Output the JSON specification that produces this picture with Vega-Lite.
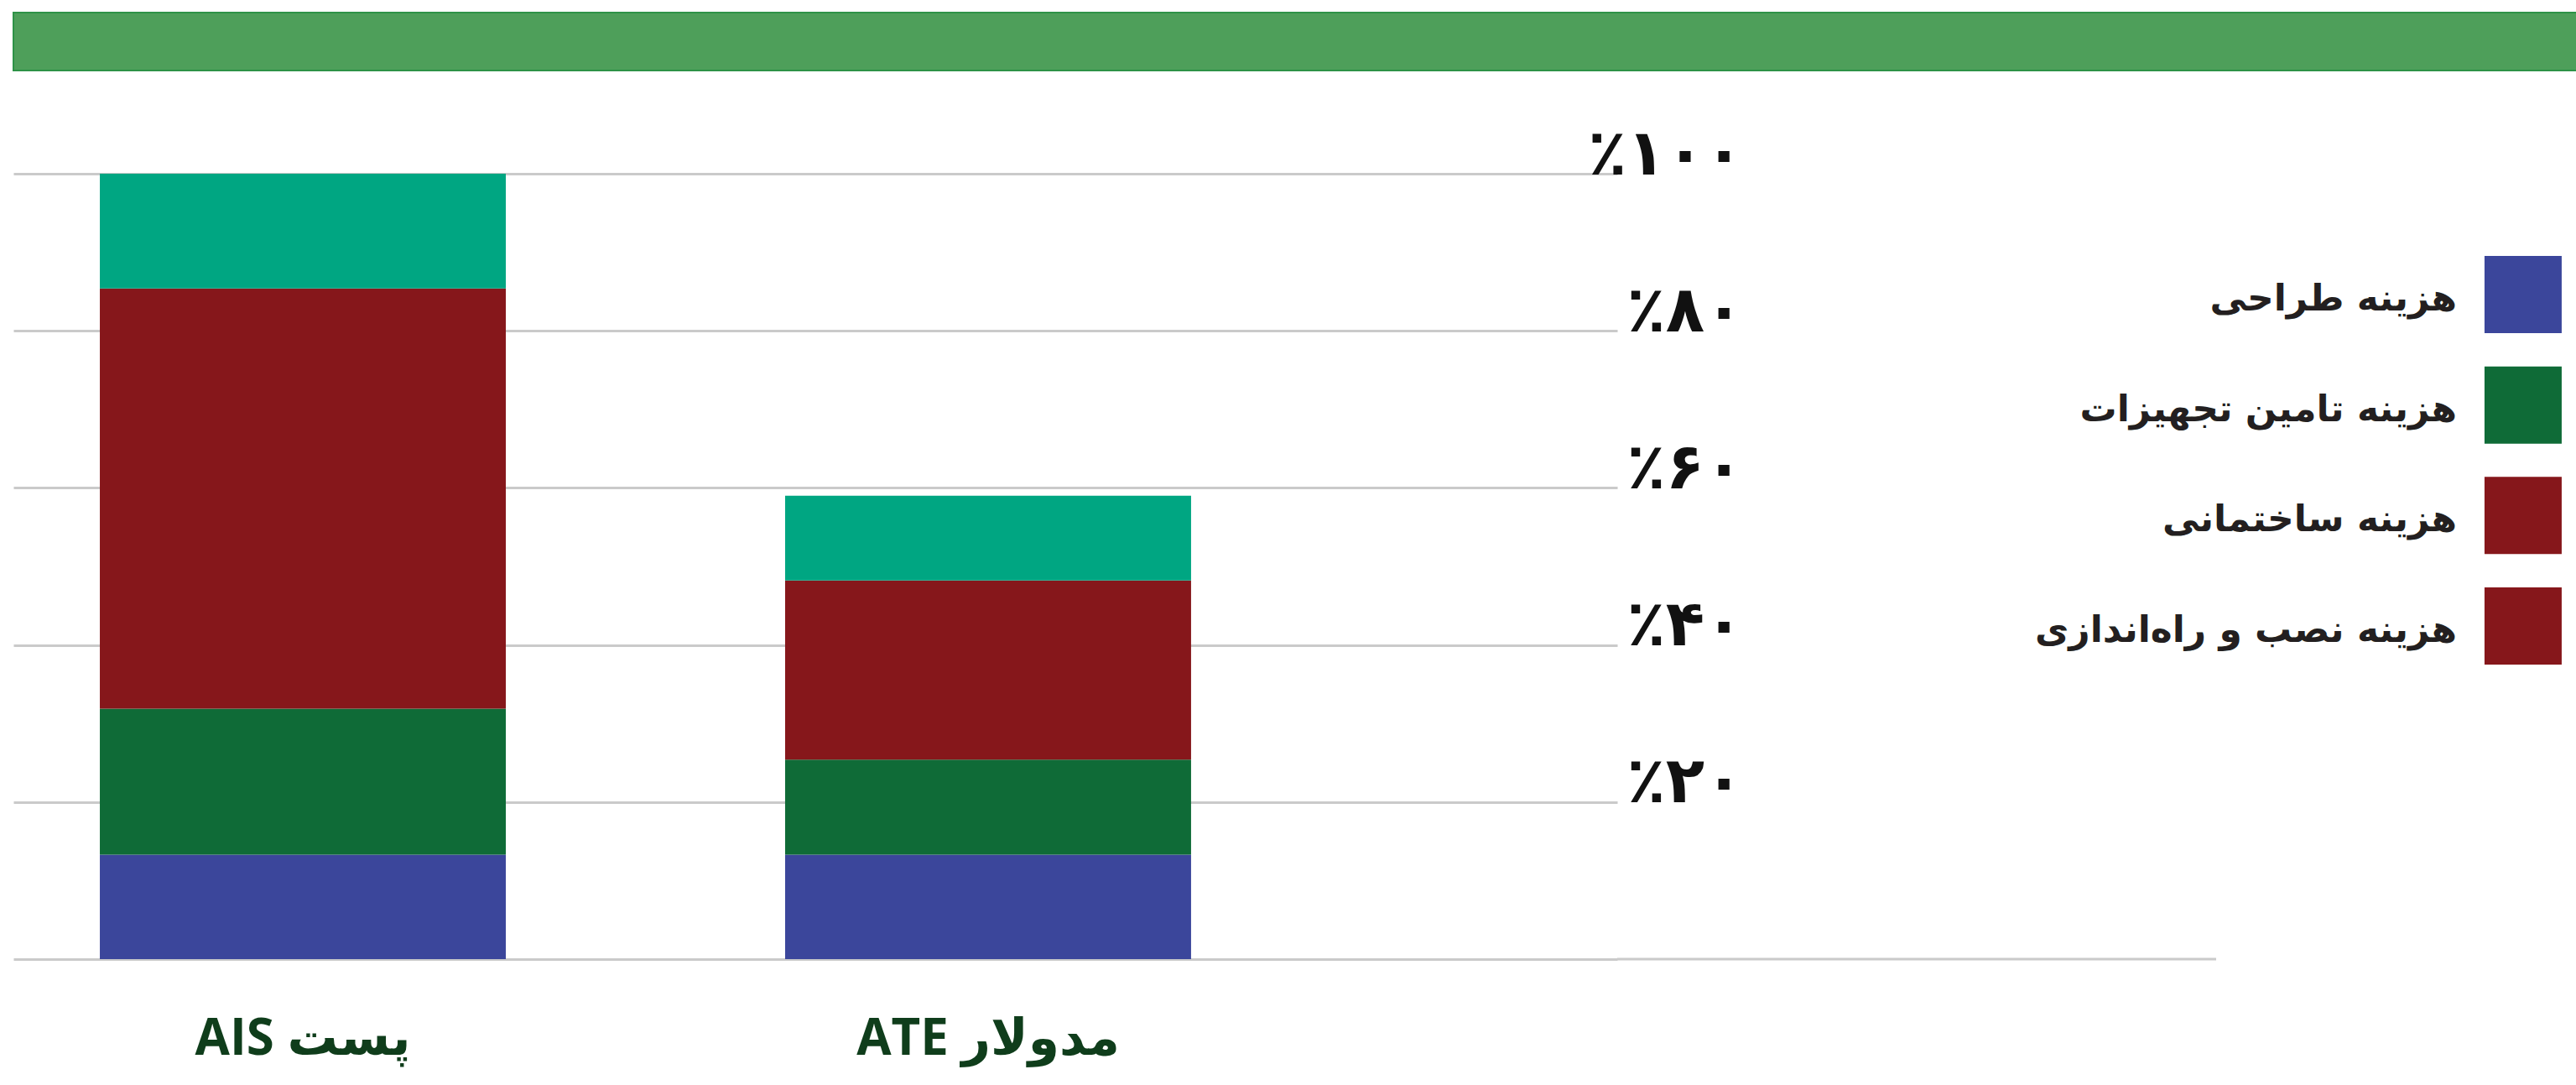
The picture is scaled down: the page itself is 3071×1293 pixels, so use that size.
{
  "$schema": "https://vega.github.io/schema/vega-lite/v6.json",
  "background": "white",
  "padding": {"left": 15, "top": 14, "right": 0, "bottom": 30},
  "config": {"view": {"stroke": null}},
  "datasets": {
    "costs": [
      {"bar": "پست AIS", "cost": "هزینه طراحی", "rank": 1, "pct": 13.3},
      {"bar": "پست AIS", "cost": "هزینه تامین تجهیزات", "rank": 2, "pct": 18.6},
      {"bar": "پست AIS", "cost": "هزینه ساختمانی", "rank": 3, "pct": 53.5},
      {"bar": "پست AIS", "cost": "هزینه نصب و راه‌اندازی", "rank": 4, "pct": 14.6},
      {"bar": "مدولار ATE", "cost": "هزینه طراحی", "rank": 1, "pct": 13.3},
      {"bar": "مدولار ATE", "cost": "هزینه تامین تجهیزات", "rank": 2, "pct": 12.1},
      {"bar": "مدولار ATE", "cost": "هزینه ساختمانی", "rank": 3, "pct": 22.8},
      {"bar": "مدولار ATE", "cost": "هزینه نصب و راه‌اندازی", "rank": 4, "pct": 10.8}
    ]
  },
  "spacing": 123,
  "bounds": "flush",
  "vconcat": [
    {
      "width": 3056,
      "height": 69,
      "data": {"values": [{}]},
      "mark": {"type": "rect", "fill": "#4e9f5a", "stroke": "#2e9247", "strokeWidth": 2},
      "encoding": {
        "x": {"datum": 0, "type": "quantitative", "scale": {"domain": [0, 1], "nice": false, "zero": false}, "axis": null},
        "x2": {"datum": 1},
        "y": {"datum": 0, "type": "quantitative", "scale": {"domain": [0, 1], "nice": false, "zero": false}, "axis": null},
        "y2": {"datum": 1}
      }
    },
    {
      "spacing": 0,
      "bounds": "flush",
      "resolve": {"scale": {"x": "independent", "y": "independent", "color": "independent"}},
      "hconcat": [
        {
          "width": 1912,
          "height": 936,
          "data": {"name": "costs"},
          "mark": {"type": "bar"},
          "encoding": {
            "x": {
              "field": "bar", "type": "nominal", "sort": null,
              "scale": {"domain": ["پست AIS", "مدولار ATE"], "paddingInner": 0.4076, "paddingOuter": 0.374, "align": 0.1686},
              "axis": {
                "orient": "bottom", "title": null, "domain": false, "ticks": false, "tickSize": 0,
                "labelAngle": 0, "labelPadding": 113, "labelBaseline": "alphabetic", "labelLimit": 0,
                "labelFont": "Open Sans, DejaVu Sans",
                "labelFontSize": 60, "labelFontWeight": "bold", "labelColor": "#0f3d1b",
                "labelExpr": "'\u202b' + datum.label + '\u202c'"
              }
            },
            "y": {
              "field": "pct", "type": "quantitative", "stack": "zero",
              "scale": {"domain": [0, 100], "nice": false, "zero": true},
              "axis": {
                "orient": "right", "title": null, "values": [0, 20, 40, 60, 80, 100],
                "grid": true, "gridColor": "#cacaca", "gridWidth": 3,
                "domain": false, "ticks": false, "tickSize": 0,
                "labelAlign": "right", "labelPadding": 150, "labelBaseline": "alphabetic",
                "labelFont": "DejaVu Sans", "labelFontWeight": "bold", "labelFontSize": 76,
                "labelColor": "#111111", "labelOverlap": false, "labelLimit": 0,
                "labelExpr": "datum.value == 100 ? '٪۱۰۰' : datum.value == 80 ? '٪۸۰' : datum.value == 60 ? '٪۶۰' : datum.value == 40 ? '٪۴۰' : datum.value == 20 ? '٪۲۰' : ''"
              }
            },
            "color": {
              "field": "cost", "type": "nominal",
              "scale": {
                "domain": ["هزینه طراحی", "هزینه تامین تجهیزات", "هزینه ساختمانی", "هزینه نصب و راه‌اندازی"],
                "range": ["#3b469b", "#0f6b37", "#86171b", "#00a682"]
              },
              "legend": null
            },
            "order": {"field": "rank", "type": "quantitative"}
          }
        },
        {
          "width": 714,
          "height": 936,
          "data": {"values": [{}]},
          "mark": {"type": "rule", "color": "#cacaca", "strokeWidth": 3},
          "encoding": {
            "y": {"datum": 0, "type": "quantitative", "scale": {"domain": [0, 100], "nice": false}, "axis": null}
          }
        },
        {
          "width": 430,
          "height": 936,
          "data": {"name": "costs"},
          "transform": [{"filter": "indexof(datum.bar, 'ATE') >= 0"}],
          "encoding": {
            "y": {
              "field": "rank", "type": "quantitative",
              "scale": {"domain": [-0.093, 7.014], "reverse": true, "nice": false, "zero": false},
              "axis": null
            },
            "x": {"datum": "s", "type": "nominal", "scale": {"type": "point", "domain": ["s"], "padding": 0, "align": 0.851}, "axis": null}
          },
          "layer": [
            {
              "mark": {"type": "square", "size": 8464, "filled": true, "opacity": 1},
              "encoding": {
                "color": {
                  "field": "cost", "type": "nominal",
                  "scale": {
                    "domain": ["هزینه طراحی", "هزینه تامین تجهیزات", "هزینه ساختمانی", "هزینه نصب و راه‌اندازی"],
                    "range": ["#3b469b", "#0f6b37", "#86171b", "#86171b"]
                  },
                  "legend": null
                }
              }
            },
            {
              "mark": {"type": "text", "align": "right", "baseline": "middle", "dx": -79, "dy": 6, "font": "DejaVu Sans", "fontWeight": "bold", "fontSize": 44, "color": "#231f20"},
              "encoding": {"text": {"field": "cost", "type": "nominal"}}
            }
          ]
        }
      ]
    }
  ]
}
